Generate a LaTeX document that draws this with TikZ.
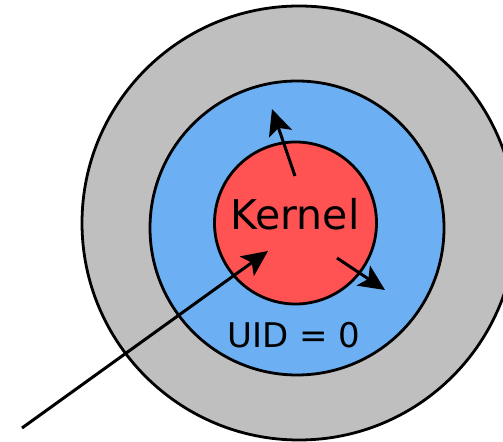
\documentclass[tikz,border=0pt]{standalone}
\usepackage{fontspec}
\setmainfont{DejaVu Sans}
\usetikzlibrary{arrows.meta}
\definecolor{ringgray}{RGB}{191,191,191}
\definecolor{ringblue}{RGB}{108,176,243}
\definecolor{ringred}{RGB}{255,82,82}
\begin{document}
\begin{tikzpicture}[x=0.5pt,y=-0.5pt,
  ring/.style={circle, draw=black, line width=1.4pt, inner sep=0pt},
  flow/.style={line width=1.5pt, -{Stealth[length=13pt,width=12pt,inset=3pt]}},
  lbl/.style={inner sep=0pt, text=black}]
\useasboundingbox (0,0) rectangle (503,442);
\clip (0,0) rectangle (503,442);
\node[ring, fill=ringgray, minimum size=217pt] (outer) at (299,223) {};
\node[ring, fill=ringblue, minimum size=147pt] (middle) at (297,228) {};
\node[ring, fill=ringred, minimum size=81pt] (core) at (295.5,223) {};
\node[lbl, font=\fontsize{20.5pt}{24pt}\selectfont] (kernel) at (295,214) {Kernel};
\node[lbl, font=\fontsize{17pt}{20pt}\selectfont] (uid) at (294,335) {UID = 0};
\coordinate (a1s) at (22,428);
\coordinate (a1e) at (268,251);
\coordinate (a2s) at (295,176);
\coordinate (a2e) at (272,109);
\coordinate (a3s) at (337,258);
\coordinate (a3e) at (385,290);
\draw[flow] (a1s) -- (a1e);
\draw[flow] (a2s) -- (a2e);
\draw[flow] (a3s) -- (a3e);
\end{tikzpicture}
\end{document}
